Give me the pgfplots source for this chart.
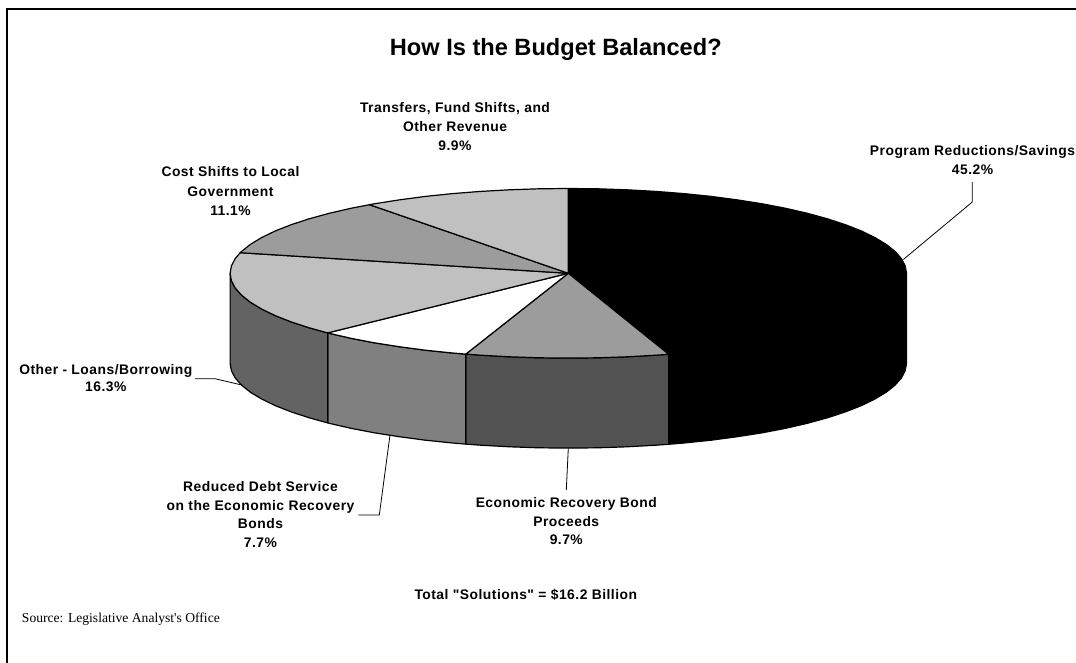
\documentclass[border=0pt]{standalone}
\usepackage{fontspec}
\usepackage{pgfplots}
\pgfplotsset{compat=1.18}
\setmainfont{Liberation Sans}
\newfontfamily\labelfont[LetterSpace=3.5]{Liberation Sans}
\newfontfamily\sourcefont{Liberation Serif}
\definecolor{topmid}{HTML}{9C9C9C}
\definecolor{toplight}{HTML}{C0C0C0}
\definecolor{sideA}{HTML}{525252}
\definecolor{sideB}{HTML}{808080}
\definecolor{sideC}{HTML}{636363}
% one label line, centred on x with its baseline on y
\newcommand{\lbl}[3]{\node[anchor=base,inner sep=0pt,font=\labelfont\bfseries\fontsize{10.4}{12}\selectfont] at (axis cs:#1,#2) {#3};}
\begin{document}
\begin{tikzpicture}
\useasboundingbox (0,0) rectangle (807pt,497.25pt);
\begin{axis}[
  at={(0,0)},anchor=south west,
  scale only axis,width=807pt,height=497.25pt,
  xmin=0,xmax=1076,ymin=0,ymax=663,y dir=reverse,
  hide axis,clip=false,
  wedge/.style={draw=black,line width=0.9pt,line join=round},
  leader/.style={draw=black,line width=0.6pt,line join=miter},
]
% page frame
\addplot[draw=black,line width=1.8pt] coordinates {(7.2,663) (7.2,9.2) (1076,9.2)};

% side walls: Program Reductions/Savings 45.2%
\addplot[wedge,fill=black] coordinates {
 (906.5,273.3) (905.2,280.7) (901.4,288.0) (895.0,295.2) (886.1,302.3) (874.8,309.1) (861.2,315.7)
 (845.4,321.9) (827.4,327.8) (807.4,333.3) (785.7,338.3) (762.3,342.8) (737.4,346.7) (711.2,350.2)
 (684.0,353.0) (668.7,354.3)
 (668.7,444.3) (684.0,443.0) (711.2,440.2) (737.4,436.7) (762.3,432.8) (785.7,428.3) (807.4,423.3)
 (827.4,417.8) (845.4,411.9) (861.2,405.7) (874.8,399.1) (886.1,392.3) (895.0,385.2) (901.4,378.0)
 (905.2,370.7) (906.5,363.3) (906.5,273.3)};
% side wall: Economic Recovery Bond Proceeds 9.7%
\addplot[wedge,fill=sideA] coordinates {
 (668.7,354.3) (655.8,355.2) (627.0,356.8) (597.8,357.8) (568.3,358.1) (538.8,357.8) (509.6,356.8)
 (480.8,355.2) (465.8,354.1)
 (465.8,444.1) (480.8,445.2) (509.6,446.8) (538.8,447.8) (568.3,448.1) (597.8,447.8) (627.0,446.8)
 (655.8,445.2) (668.7,444.3) (668.7,354.3)};
% side wall: Reduced Debt Service 7.7%
\addplot[wedge,fill=sideB] coordinates {
 (465.8,354.1) (452.6,353.0) (425.4,350.2) (399.2,346.7) (374.3,342.8) (350.9,338.3) (329.2,333.3) (327.7,332.9)
 (327.7,422.9) (329.2,423.3) (350.9,428.3) (374.3,432.8) (399.2,436.7) (425.4,440.2) (452.6,443.0)
 (465.8,444.1) (465.8,354.1)};
% side wall: Other - Loans/Borrowing 16.3%
\addplot[wedge,fill=sideC] coordinates {
 (327.7,332.9) (309.2,327.8) (291.2,321.9) (275.4,315.7) (261.8,309.1) (250.5,302.3) (241.6,295.2)
 (235.2,288.0) (231.4,280.7) (230.1,273.3)
 (230.1,363.3) (231.4,370.7) (235.2,378.0) (241.6,385.2) (250.5,392.3) (261.8,399.1) (275.4,405.7)
 (291.2,411.9) (309.2,417.8) (327.7,422.9) (327.7,332.9)};

% top face, clockwise from twelve o'clock
\addplot[wedge,fill=black] coordinates {
 (568.3,273.3) (568.3,188.5) (597.8,188.8) (627.0,189.8) (655.8,191.4) (684.0,193.6) (711.2,196.4)
 (737.4,199.9) (762.3,203.8) (785.7,208.3) (807.4,213.3) (827.4,218.8) (845.4,224.7) (861.2,230.9)
 (874.8,237.5) (886.1,244.3) (895.0,251.4) (901.4,258.6) (905.2,265.9) (906.5,273.3) (905.2,280.7)
 (901.4,288.0) (895.0,295.2) (886.1,302.3) (874.8,309.1) (861.2,315.7) (845.4,321.9) (827.4,327.8)
 (807.4,333.3) (785.7,338.3) (762.3,342.8) (737.4,346.7) (711.2,350.2) (684.0,353.0) (668.7,354.3)
 (568.3,273.3)};
\addplot[wedge,fill=topmid] coordinates {
 (568.3,273.3) (668.7,354.3) (655.8,355.2) (627.0,356.8) (597.8,357.8) (568.3,358.1) (538.8,357.8)
 (509.6,356.8) (480.8,355.2) (465.8,354.1) (568.3,273.3)};
\addplot[wedge,fill=white] coordinates {
 (568.3,273.3) (465.8,354.1) (452.6,353.0) (425.4,350.2) (399.2,346.7) (374.3,342.8) (350.9,338.3)
 (329.2,333.3) (327.7,332.9) (568.3,273.3)};
\addplot[wedge,fill=toplight] coordinates {
 (568.3,273.3) (327.7,332.9) (309.2,327.8) (291.2,321.9) (275.4,315.7) (261.8,309.1) (250.5,302.3)
 (241.6,295.2) (235.2,288.0) (231.4,280.7) (230.1,273.3) (231.4,265.9) (235.2,258.6) (240.2,252.7)
 (568.3,273.3)};
\addplot[wedge,fill=topmid] coordinates {
 (568.3,273.3) (240.2,252.7) (241.6,251.4) (250.5,244.3) (261.8,237.5) (275.4,230.9) (291.2,224.7)
 (309.2,218.8) (329.2,213.3) (350.9,208.3) (369.5,204.7) (568.3,273.3)};
\addplot[wedge,fill=toplight] coordinates {
 (568.3,273.3) (369.5,204.7) (374.3,203.8) (399.2,199.9) (425.4,196.4) (452.6,193.6) (480.8,191.4)
 (509.6,189.8) (538.8,188.8) (568.3,188.5) (568.3,273.3)};

% leader lines
\addplot[leader] coordinates {(972.3,182) (972.3,202) (903.3,259.5)};
\addplot[leader] coordinates {(195,378.7) (215,378.7) (241.7,385)};
\addplot[leader] coordinates {(390,435) (379.3,515) (358.3,515)};
\addplot[leader] coordinates {(568.3,448.3) (566.3,490)};

% title and labels
\node[anchor=base,inner sep=0pt,font=\bfseries\fontsize{17.7}{20}\selectfont] at (axis cs:555.8,56) {How Is the Budget Balanced?};
\lbl{455}{112.7}{Transfers, Fund Shifts, and}
\lbl{455}{131.7}{Other Revenue}
\lbl{455}{150.7}{9.9\%}
\lbl{230.5}{177}{Cost Shifts to Local}
\lbl{230.5}{196.5}{Government}
\lbl{230.5}{216}{11.1\%}
\lbl{972.5}{156}{Program Reductions/Savings}
\lbl{972.5}{175}{45.2\%}
\lbl{105.8}{374}{Other - Loans/Borrowing}
\lbl{105.8}{392}{16.3\%}
\lbl{260.5}{491.7}{Reduced Debt Service}
\lbl{260.5}{510}{on the Economic Recovery}
\lbl{260.5}{528.5}{Bonds}
\lbl{260.5}{547}{7.7\%}
\lbl{566.3}{507.3}{Economic Recovery Bond}
\lbl{566.3}{526}{Proceeds}
\lbl{566.3}{544.5}{9.7\%}
\lbl{525.8}{599.3}{Total "Solutions" = \$16.2 Billion}
\node[anchor=base west,inner sep=0pt,font=\sourcefont\fontsize{10.2}{12}\selectfont] at (axis cs:21.7,622.7) {Source: Legislative Analyst's Office};
\end{axis}
\end{tikzpicture}
\end{document}
